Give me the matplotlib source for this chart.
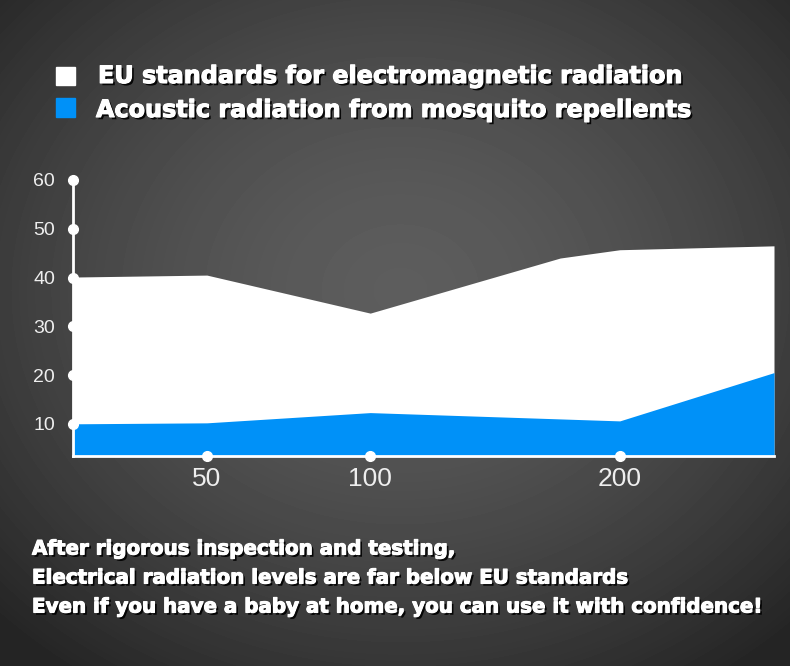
import numpy as np
import matplotlib.pyplot as plt
import matplotlib.patheffects as pe
from matplotlib.patches import Rectangle

# Data (x in relative axis units, 0..100)
eu_x = [0, 19.1, 42.4, 69.5, 78.0, 100]
eu_standard = [40.1, 40.5, 32.7, 44.0, 45.7, 46.5]
rep_x = [0, 19.1, 42.4, 78.0, 100]
repellent = [10.0, 10.2, 12.3, 10.6, 20.5]
xtick_pos = [19.1, 42.4, 78.0]
xtick_labels = ['50', '100', '200']
yticks = [10, 20, 30, 40, 50, 60]

legend_labels = ['EU standards for electromagnetic radiation',
                 'Acoustic radiation from mosquito repellents']
notes = ['After rigorous inspection and testing,',
         'Electrical radiation levels are far below EU standards',
         'Even if you have a baby at home, you can use it with confidence!']

BLUE = '#0091f8'
W, H = 790, 666

fig = plt.figure(figsize=(W / 100, H / 100), dpi=100)

# radial gray background
bg = fig.add_axes([0, 0, 1, 1], zorder=-10)
yy, xx = np.mgrid[0:H, 0:W]
r = np.sqrt(((xx - 400) / 560.0) ** 2 + ((yy - 290) / 470.0) ** 2)
r = np.clip(r, 0, 1)
shade = 0.365 - 0.22 * r ** 1.6
bg.imshow(shade, cmap='gray', vmin=0, vmax=1, aspect='auto', extent=[0, 1, 0, 1])
bg.axis('off')

ax = fig.add_axes([73 / W, 1 - 456 / H, (774 - 73) / W, (456 - 180) / H])
ax.set_facecolor('none')
ax.set_xlim(0, 100)
ax.set_ylim(3.4, 60)
y0 = ax.get_ylim()[0]

ax.fill_between(eu_x, eu_standard, y0, color='white', lw=0, zorder=1)
ax.fill_between(rep_x, repellent, y0, color=BLUE, lw=0, zorder=2)

for s in ['top', 'right']:
    ax.spines[s].set_visible(False)
for s in ['left', 'bottom']:
    ax.spines[s].set_color('white')
    ax.spines[s].set_linewidth(2)
    ax.spines[s].set_zorder(3)

ax.set_yticks(yticks)
ax.set_xticks(xtick_pos)
ax.set_xticklabels(xtick_labels)
ax.tick_params(axis='y', length=0, pad=13, labelsize=14, labelcolor='#eeeeee')
ax.tick_params(axis='x', length=0, pad=8, labelsize=19, labelcolor='#eeeeee')
for lbl in ax.get_yticklabels() + ax.get_xticklabels():
    lbl.set_family('Liberation Sans')

# white dots on the axes
ax.plot([0] * len(yticks), yticks, 'o', color='white', ms=7, clip_on=False, zorder=4)
ax.plot(xtick_pos, [y0] * len(xtick_pos), 'o', color='white', ms=7, clip_on=False, zorder=4)

shadow = [pe.withSimplePatchShadow(offset=(1.6, -1.6), shadow_rgbFace='black', alpha=0.9),
          pe.withStroke(linewidth=0.8, foreground='white')]

# legend
fig.patches.append(Rectangle((56 / W, 1 - 85 / H), 19 / W, 18 / H, color='white',
                             transform=fig.transFigure, figure=fig))
fig.patches.append(Rectangle((56 / W, 1 - 117 / H), 19 / W, 19 / H, color=BLUE,
                             transform=fig.transFigure, figure=fig))
fig.text(98 / W, 1 - 76 / H, legend_labels[0], color='white', fontsize=17.2, weight='bold',
         va='center', ha='left', path_effects=shadow)
fig.text(96 / W, 1 - 110 / H, legend_labels[1], color='white', fontsize=17.2, weight='bold',
         va='center', ha='left', path_effects=shadow)

# notes below
for i, line in enumerate(notes):
    fig.text(32 / W, 1 - (549 + 29 * i) / H, line, color='white', fontsize=14.3, weight='bold',
             va='center', ha='left', path_effects=shadow)

fig.savefig('out.png', dpi=100)
